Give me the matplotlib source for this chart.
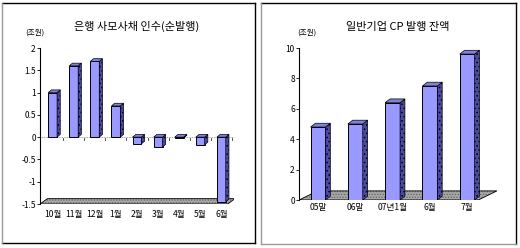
import matplotlib
matplotlib.use("Agg")
import matplotlib.pyplot as plt
from matplotlib.patches import Polygon
from matplotlib.lines import Line2D

plt.rcParams['font.family'] = ['Noto Sans CJK KR', 'DejaVu Sans']
plt.rcParams['hatch.linewidth'] = 0.6

left_title = "은행 사모사채 인수(순발행)"
left_cats = ["10월", "11월", "12월", "1월", "2월", "3월", "4월", "5월", "6월"]
left_vals = [1.0, 1.6, 1.7, 0.7, -0.15, -0.22, -0.02, -0.17, -1.45]
left_ticks = [-1.5, -1, -0.5, 0, 0.5, 1, 1.5, 2]
left_ticklabels = ["-1.5", "-1", "-0.5", "0", "0.5", "1", "1.5", "2"]

right_title = "일반기업 CP 발행 잔액"
right_cats = ["05말", "06말", "07년1월", "6월", "7월"]
right_vals = [4.8, 5.0, 6.4, 7.5, 9.6]
right_ticks = [0, 2, 4, 6, 8, 10]
right_ticklabels = ["0", "2", "4", "6", "8", "10"]

unit = "(조원)"

W, H = 520, 248
fig = plt.figure(figsize=(W / 100, H / 100), dpi=100)

FRONT = "#9999ff"
SIDE = "#4a4aa0"
TOP = "#8080e0"


def px_axes(x0, y0, x1, y1):
    return fig.add_axes([x0 / W, 1 - y1 / H, (x1 - x0) / W, (y1 - y0) / H])


def bars3d(ax, vals, width, dx, dy, base):
    for i, v in enumerate(vals):
        x0 = i - width / 2
        x1 = i + width / 2
        lo, hi = min(base, v), max(base, v)
        ax.bar(i, v - base, bottom=base, width=width, color=FRONT,
               edgecolor="black", linewidth=0.7, zorder=3)
        side = Polygon([(x1, lo), (x1 + dx, lo + dy), (x1 + dx, hi + dy), (x1, hi)],
                       closed=True, facecolor=SIDE, edgecolor="black",
                       linewidth=0.5, zorder=3, hatch="....")
        top = Polygon([(x0, hi), (x0 + dx, hi + dy), (x1 + dx, hi + dy), (x1, hi)],
                      closed=True, facecolor=TOP, edgecolor="black",
                      linewidth=0.5, zorder=3)
        ax.add_patch(side)
        ax.add_patch(top)


def floor(ax, xl, xr, y, dx, dy):
    pts = [(xl, y), (xl + dx, y + dy), (xr + dx, y + dy), (xr, y)]
    ax.add_patch(Polygon(pts, closed=True, facecolor="#a8a8a8", edgecolor="#606060",
                         linewidth=0, zorder=1, hatch="......"))
    ax.add_patch(Polygon(pts, closed=True, facecolor="none", edgecolor="black",
                         linewidth=0.6, zorder=1))


def style(ax):
    for s in ["top", "right", "bottom"]:
        ax.spines[s].set_visible(False)
    ax.spines["left"].set_linewidth(0.8)
    ax.tick_params(axis="y", length=2, width=0.6, labelsize=6, pad=1)
    ax.tick_params(axis="x", length=0, labelsize=6.2, pad=4)


# ---------- left panel ----------
axL = px_axes(40, 48, 234, 204)
axL.set_xlim(-0.6, 8.6)
axL.set_ylim(-1.5, 2)
style(axL)
axL.set_yticks(left_ticks)
axL.set_yticklabels(left_ticklabels)
axL.set_xticks(range(len(left_cats)))
axL.set_xticklabels(left_cats)
floor(axL, -0.6, 8.3, -1.5, 0.35, 0.12)
axL.axhline(0, color="#888888", linewidth=0.6, linestyle=(0, (1, 1)), zorder=2)
bars3d(axL, left_vals, 0.42, 0.15, 0.06, 0)
for i in range(len(left_cats)):
    axL.plot([i + 0.5, i + 0.5], [-0.02, -0.06], color="black", lw=0.5, zorder=4)
axL.set_title(left_title, fontsize=8, pad=13)
fig.text(35 / W, 1 - 33 / H, unit, fontsize=5.5, ha="center", va="center")

# ---------- right panel ----------
axR = px_axes(299, 48, 497, 200)
axR.set_xlim(-0.51, 4.8)
axR.set_ylim(0, 10)
style(axR)
axR.set_yticks(right_ticks)
axR.set_yticklabels(right_ticklabels)
axR.set_xticks(range(len(right_cats)))
axR.set_xticklabels(right_cats)
axR.tick_params(axis="x", pad=2)
floor(axR, -0.51, 4.3, 0, 0.5, 0.6)
bars3d(axR, right_vals, 0.4, 0.13, 0.25, 0)
axR.set_title(right_title, fontsize=8, pad=13)
fig.text(307 / W, 1 - 33 / H, unit, fontsize=5.5, ha="center", va="center")

# ---------- panel borders ----------
def border(x0, y0, x1, y1, left_c, bottom_c):
    fx = lambda x: x / W
    fy = lambda y: 1 - y / H
    fig.add_artist(Line2D([fx(x0), fx(x1)], [fy(y0), fy(y0)], color="black", lw=1.0))
    fig.add_artist(Line2D([fx(x1), fx(x1)], [fy(y0), fy(y1)], color="black", lw=1.0))
    fig.add_artist(Line2D([fx(x0), fx(x1)], [fy(y1), fy(y1)], color=bottom_c, lw=1.0))
    fig.add_artist(Line2D([fx(x0), fx(x0)], [fy(y0), fy(y1)], color=left_c, lw=1.0))

border(2, 3, 255, 243, "#999999", "black")
border(261, 3, 516, 244, "#999999", "#999999")

fig.savefig("out.png", dpi=100)
